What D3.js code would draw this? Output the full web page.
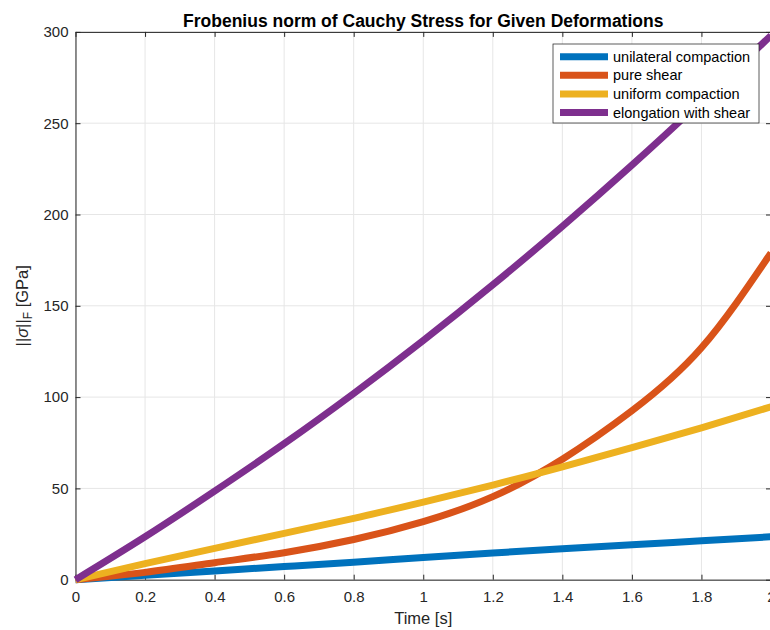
<!DOCTYPE html>
<html>
<head>
<meta charset="utf-8">
<script src="https://cdn.jsdelivr.net/npm/d3@7"></script>
<style>
  body { margin: 0; background: #fff; }
  text { font-family: "Liberation Sans", Arial, Helvetica, sans-serif; }
</style>
</head>
<body>
<svg id="chart" width="770" height="630"></svg>
<script>
// values
const times = [0, 0.2, 0.4, 0.6, 0.8, 1.0, 1.2, 1.4, 1.6, 1.8, 2.0];
const unilateral = [0, 2.4, 4.8, 7.2, 9.6, 12.2, 14.6, 16.9, 19.1, 21.3, 23.5];
const pureShear = [0, 4.0, 9.3, 14.8, 22.0, 31.8, 45.5, 66.0, 92.5, 127.0, 179.0];
const uniform = [0, 8.8, 17.2, 25.4, 33.6, 42.5, 51.8, 61.8, 72.3, 83.2, 94.7];
const elongation = [0, 23.5, 48.5, 74.5, 102.0, 131.0, 161.5, 193.5, 227.0, 262.0, 298.0];
const seriesNames = ['unilateral compaction', 'pure shear', 'uniform compaction', 'elongation with shear'];
const seriesColors = ['#0072BD', '#D95319', '#EDB120', '#7E2F8E'];
const xTicks = [0, 0.2, 0.4, 0.6, 0.8, 1.0, 1.2, 1.4, 1.6, 1.8, 2.0];
const yTicks = [0, 50, 100, 150, 200, 250, 300];

const svg = d3.select('#chart');
const plotLeft = 75.5, plotRight = 771, plotTop = 31.9, plotBottom = 579.7;
const axisColor = '#262626';

const x = d3.scaleLinear().domain([0, 2]).range([plotLeft, plotRight]);
const y = d3.scaleLinear().domain([0, 300]).range([plotBottom, plotTop]);

svg.append('rect').attr('width', 770).attr('height', 630).attr('fill', '#fff');

// grid
const grid = svg.append('g');
grid.selectAll('.gx').data(xTicks).enter().append('line')
  .attr('x1', d => x(d)).attr('x2', d => x(d)).attr('y1', plotTop).attr('y2', plotBottom)
  .attr('stroke', '#e6e6e6').attr('stroke-width', 1);
grid.selectAll('.gy').data(yTicks).enter().append('line')
  .attr('x1', plotLeft).attr('x2', plotRight).attr('y1', d => y(d)).attr('y2', d => y(d))
  .attr('stroke', '#e6e6e6').attr('stroke-width', 1);

// axes
const fmt = d => String(+d.toFixed(1));
const xAxis = svg.append('g').attr('transform', 'translate(0,' + plotBottom + ')')
  .call(d3.axisBottom(x).tickValues(xTicks).tickFormat(fmt).tickSizeInner(-5).tickSizeOuter(0).tickPadding(12));
const yAxis = svg.append('g').attr('transform', 'translate(' + plotLeft + ',0)')
  .call(d3.axisLeft(y).tickValues(yTicks).tickSizeInner(-5).tickSizeOuter(0).tickPadding(7));
const xTop = svg.append('g').attr('transform', 'translate(0,' + plotTop + ')')
  .call(d3.axisTop(x).tickValues(xTicks).tickFormat('').tickSizeInner(-5).tickSizeOuter(0));
const yRight = svg.append('g').attr('transform', 'translate(' + plotRight + ',0)')
  .call(d3.axisRight(y).tickValues(yTicks).tickFormat('').tickSizeInner(-5).tickSizeOuter(0));
[xAxis, yAxis, xTop, yRight].forEach(function(a) {
  a.selectAll('path, line').attr('stroke', axisColor).attr('stroke-width', 1);
  a.selectAll('text').attr('fill', axisColor).style('font-size', '15px')
    .style('font-family', '"Liberation Sans", Arial, Helvetica, sans-serif');
});

// lines
const allSeries = [unilateral, pureShear, uniform, elongation];
const line = d3.line().x((d, i) => x(times[i])).y(d => y(d)).curve(d3.curveNatural);
svg.append('g').selectAll('path').data(allSeries).enter().append('path')
  .attr('d', d => line(d))
  .attr('fill', 'none')
  .attr('stroke', (d, i) => seriesColors[i])
  .attr('stroke-width', 7);

// title
svg.append('text').attr('x', (plotLeft + plotRight) / 2).attr('y', 27).attr('text-anchor', 'middle')
  .style('font-size', '17.5px').style('font-weight', 'bold').attr('fill', '#000')
  .text('Frobenius norm of Cauchy Stress for Given Deformations');

// axis labels
svg.append('text').attr('x', (plotLeft + plotRight) / 2).attr('y', 624).attr('text-anchor', 'middle')
  .style('font-size', '16.5px').attr('fill', axisColor).text('Time [s]');

const ylab = svg.append('text').attr('transform', 'translate(28,' + ((plotTop + plotBottom) / 2) + ') rotate(-90)')
  .attr('text-anchor', 'middle').style('font-size', '16.5px').attr('fill', axisColor);
ylab.append('tspan').text('||');
ylab.append('tspan').style('font-style', 'italic').text('σ');
ylab.append('tspan').text('||');
ylab.append('tspan').attr('dy', 4).style('font-size', '12px').text('F');
ylab.append('tspan').attr('dy', -4).text(' [GPa]');

// legend
const lg = svg.append('g').attr('transform', 'translate(553,44)');
lg.append('rect').attr('width', 206).attr('height', 79).attr('fill', '#fff')
  .attr('stroke', axisColor).attr('stroke-width', 0.75);
seriesNames.forEach(function(name, i) {
  const cy = 12.7 + i * 18.6;
  lg.append('line').attr('x1', 7).attr('x2', 55).attr('y1', cy).attr('y2', cy)
    .attr('stroke', seriesColors[i]).attr('stroke-width', 7);
  lg.append('text').attr('x', 60).attr('y', cy).attr('dy', '0.35em')
    .style('font-size', '14.5px').attr('fill', '#000').text(name);
});
</script>
</body>
</html>
